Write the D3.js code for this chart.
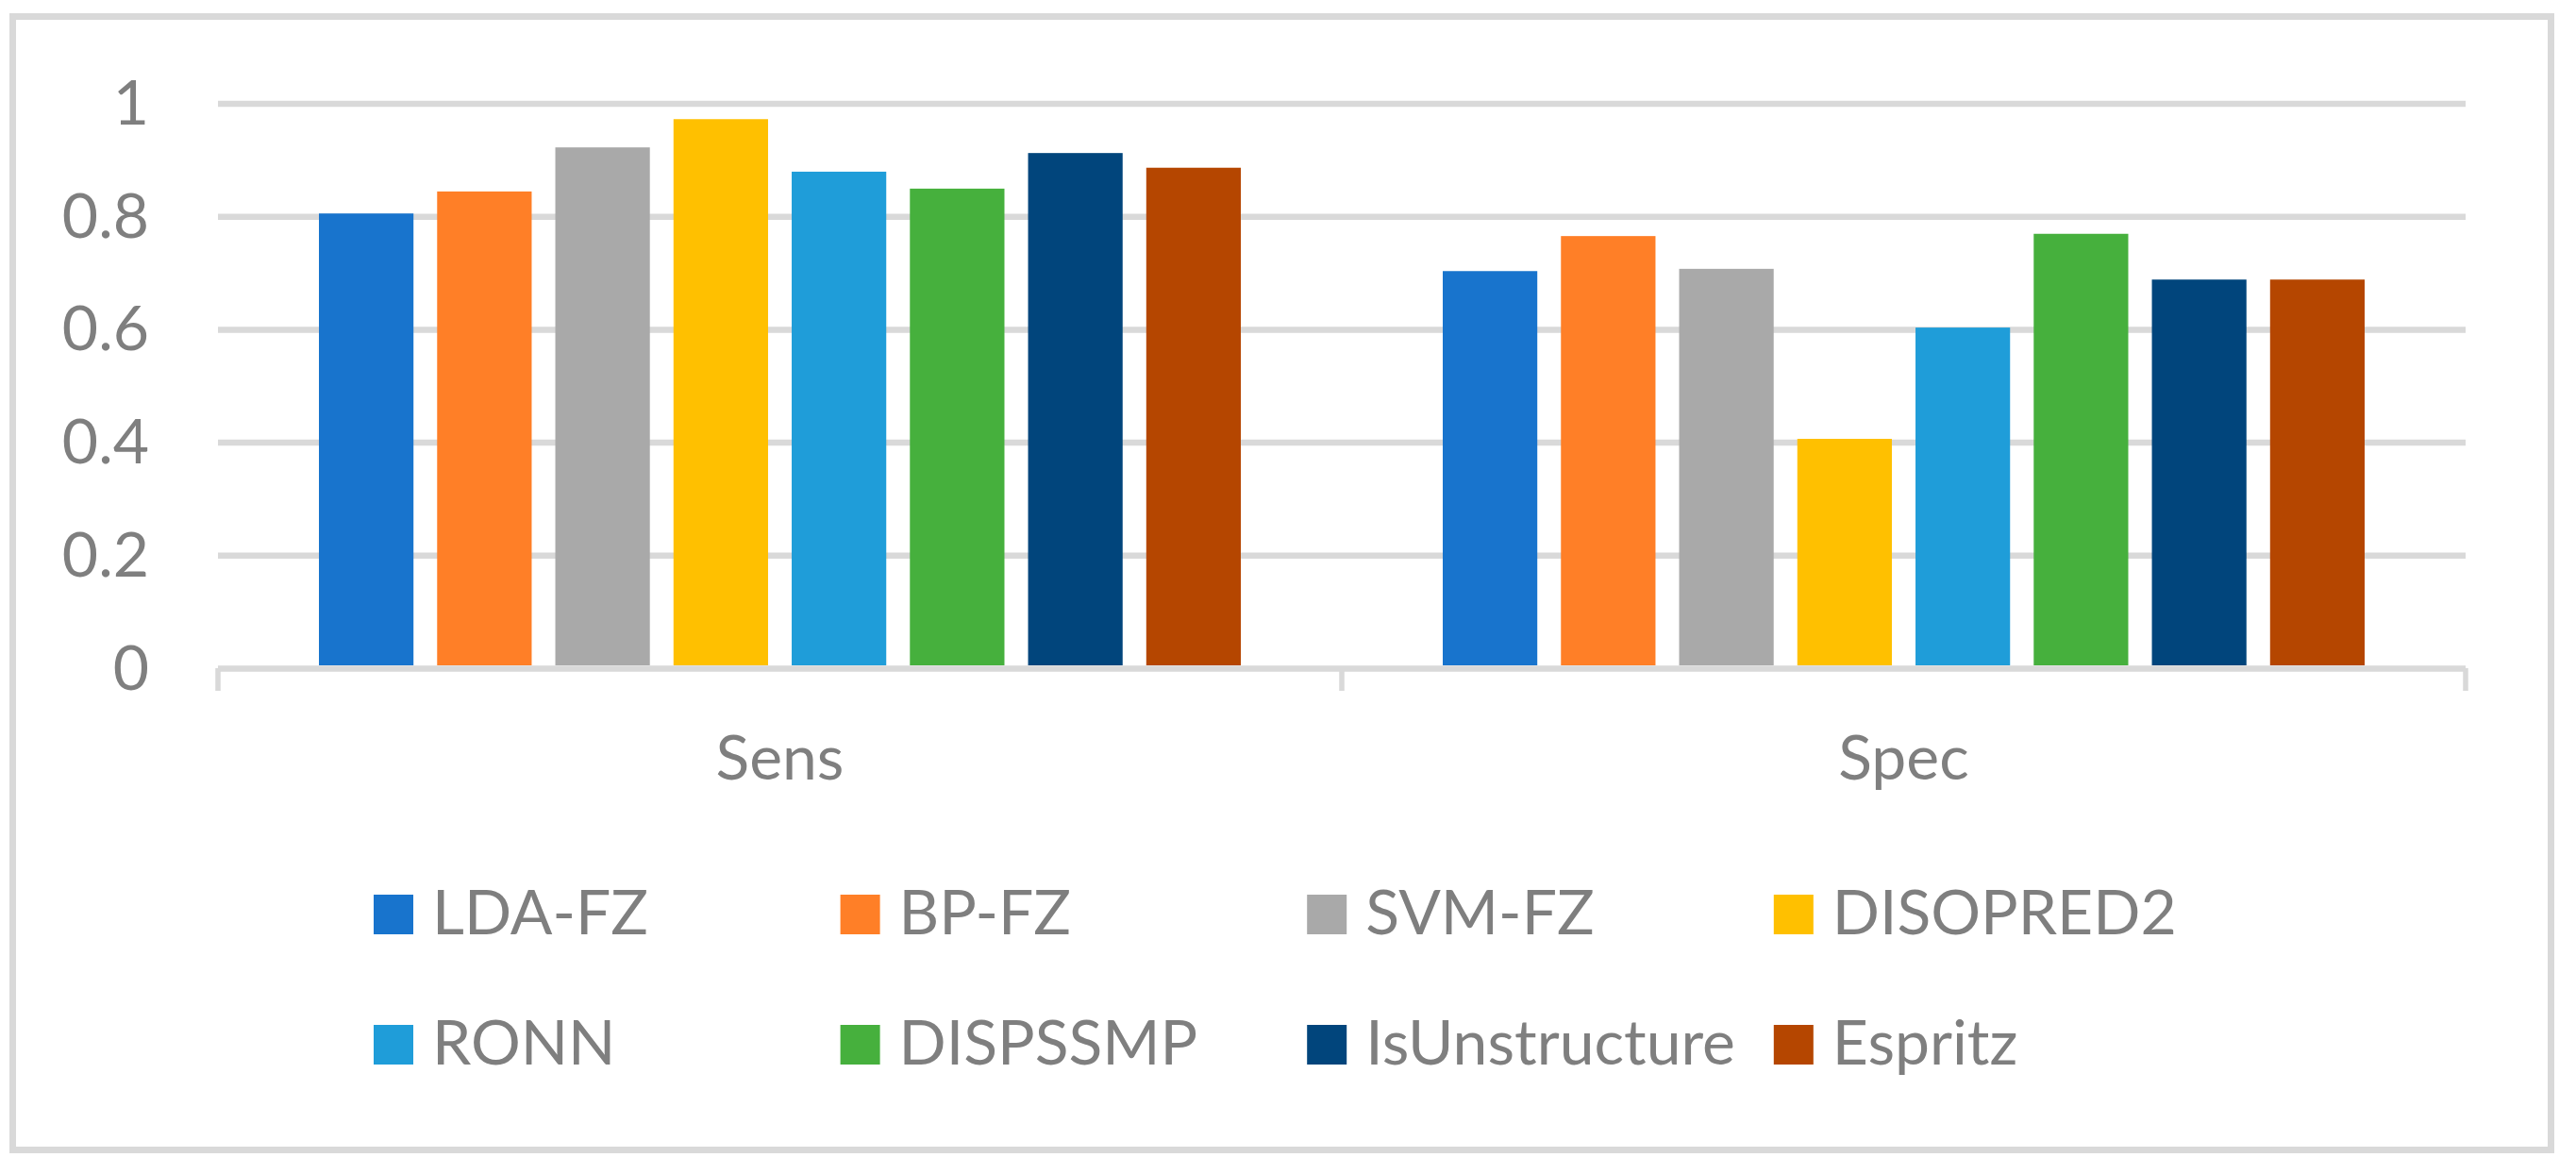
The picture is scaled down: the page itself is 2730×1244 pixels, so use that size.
<!DOCTYPE html>
<html>
<head>
<meta charset="utf-8">
<script src="https://cdn.jsdelivr.net/npm/d3@7"></script>
<style>
    body { margin: 0; background: #fff; }
    svg text { font-family: Lato, "Liberation Sans", sans-serif; fill: #7f7f7f; }
</style>
</head>
<body>
<svg id="barChart" width="2730" height="1244"></svg>
<script>

// DATA

var categories = ["Sens", "Spec"];
var series = ["LDA-FZ", "BP-FZ", "SVM-FZ", "DISOPRED2", "RONN", "DISPSSMP", "IsUnstructure", "Espritz"];
var sensValues = [0.805, 0.844, 0.922, 0.972, 0.879, 0.849, 0.912, 0.886];
var specValues = [0.703, 0.765, 0.707, 0.406, 0.603, 0.769, 0.688, 0.688];
var yTicks = [0, 0.2, 0.4, 0.6, 0.8, 1];
var colors = ["#1874cd", "#ff7f27", "#a9a9a9", "#ffc000", "#1f9dd9", "#46b03d", "#01457c", "#b54600"];

var valuesByCategory = { "Sens": sensValues, "Spec": specValues };

// SETUP

var barChart = d3.select("svg#barChart"),
    plot = { left: 231, right: 2613, top: 109.5, bottom: 708 },
    groupPad = 107;

barChart.append("rect")
    .attr("x", 0).attr("y", 0)
    .attr("width", 2730).attr("height", 1244)
    .attr("fill", "#fff");

// outer frame
barChart.append("rect")
    .attr("x", 13.5)
    .attr("y", 17.5)
    .attr("width", 2690)
    .attr("height", 1201)
    .attr("fill", "none")
    .attr("stroke", "#d9d9d9")
    .attr("stroke-width", 7);

var x0 = d3.scaleBand()
    .domain(categories)
    .range([plot.left, plot.right])
    .padding(0);

var x1 = d3.scaleBand()
    .domain(series)
    .range([groupPad, x0.bandwidth() - groupPad])
    .paddingInner(0.2)
    .paddingOuter(0);

var y = d3.scaleLinear()
    .domain([0, 1])
    .range([plot.bottom, plot.top]);

var color = d3.scaleOrdinal().domain(series).range(colors);

// y axis + gridlines
var yAxis = barChart.append("g")
    .attr("class", "axis axis--y")
    .attr("transform", "translate(" + plot.left + ",0)")
    .call(d3.axisLeft(y)
        .tickValues(yTicks)
        .tickFormat(d3.format("~g"))
        .tickSize(-(plot.right - plot.left))
        .tickPadding(73));

yAxis.select("path.domain").remove();
yAxis.selectAll(".tick line")
    .attr("stroke", "#d9d9d9")
    .attr("stroke-width", 6.5);
yAxis.selectAll(".tick text")
    .attr("font-size", 66)
    .attr("dy", 22)
    .style("fill", "#7f7f7f");

// category ticks on boundaries
var boundaries = categories.map(function (c) { return x0(c); }).concat([x0(categories[categories.length - 1]) + x0.bandwidth()]);

barChart.append("g")
    .selectAll("line")
    .data(boundaries)
    .enter()
    .append("line")
    .attr("x1", function (d) { return d; })
    .attr("x2", function (d) { return d; })
    .attr("y1", plot.bottom)
    .attr("y2", plot.bottom + 24)
    .attr("stroke", "#d9d9d9")
    .attr("stroke-width", 5.5);

// x axis labels
var xAxis = barChart.append("g")
    .attr("class", "axis axis--x")
    .attr("transform", "translate(0," + plot.bottom + ")")
    .call(d3.axisBottom(x0).tickSize(0));

xAxis.select("path.domain").remove();
xAxis.selectAll(".tick text")
    .attr("font-size", 66)
    .attr("y", 118)
    .attr("dy", null)
    .style("fill", "#7f7f7f");

// BARS

var groups = barChart.append("g")
    .selectAll("g")
    .data(categories)
    .enter()
    .append("g")
    .attr("transform", function (c) { return "translate(" + x0(c) + ",0)"; });

groups.selectAll("rect")
    .data(function (c) {
        return series.map(function (s, i) { return { key: s, value: valuesByCategory[c][i] }; });
    })
    .enter()
    .append("rect")
    .attr("x", function (d) { return x1(d.key); })
    .attr("y", function (d) { return y(d.value); })
    .attr("width", x1.bandwidth())
    .attr("height", function (d) { return y(0) - y(d.value) - 3; })
    .attr("fill", function (d) { return color(d.key); });

// LEGEND

var legend = barChart.append("g")
    .selectAll("g")
    .data(series)
    .enter()
    .append("g")
    .attr("transform", function (d, i) {
        return "translate(" + (396 + (i % 4) * 494.6) + "," + (948 + Math.floor(i / 4) * 138) + ")";
    });

legend.append("rect")
    .attr("width", 42)
    .attr("height", 42)
    .attr("fill", function (d) { return color(d); });

legend.append("text")
    .attr("x", 62)
    .attr("y", 41.5)
    .attr("font-size", 66)
    .text(function (d) { return d; });

</script>
</body>
</html>
